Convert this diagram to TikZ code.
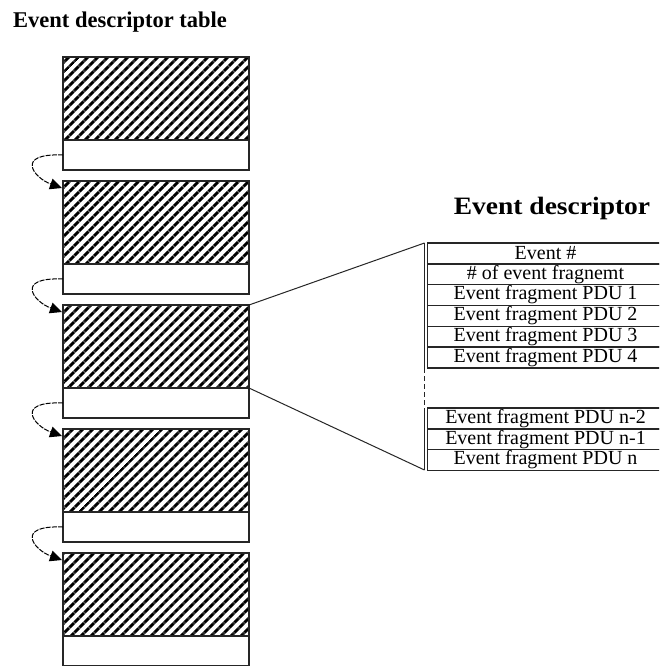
\documentclass[tikz,border=0pt]{standalone}
\usepackage{fontspec}
\setmainfont{Liberation Serif}
\usetikzlibrary{arrows.meta,patterns.meta}
\tikzset{
  blk/.style={draw=black!85, line width=1.4pt, inner sep=0pt, outer sep=0pt,
    minimum width=186pt, anchor=north west},
  hatchbox/.style={blk, minimum height=83pt,
    pattern={Lines[angle=45,distance=7.4pt,line width=3.4pt]}},
  whitebox/.style={blk, minimum height=30pt, fill=white},
  looparrow/.style={line width=1pt, dash pattern=on 5pt off 1.2pt,
    -{Triangle[length=12pt,width=11pt]}},
  rowbox/.style={draw=black!85, line width=1.4pt, inner sep=0pt, outer sep=0pt,
    minimum width=236pt, minimum height=20.8pt, anchor=north west,
    font=\fontsize{20}{22}\selectfont},
  link/.style={line width=1pt, black!85},
  ttl/.style={font=\bfseries\fontsize{22.5}{26}\selectfont, inner sep=0pt}
}
\begin{document}
\begin{tikzpicture}[x=1pt,y=-1pt]
\useasboundingbox (0,0) rectangle (659,666);
\clip (0,0) rectangle (659,666);
\fill[white] (0,0) rectangle (659,666);

\node[ttl, anchor=base west] (t1) at (13,28) {Event descriptor table};
\node[ttl, anchor=base, font=\bfseries\fontsize{25}{29}\selectfont] (t2) at (552,214) {\scalebox{1.1}[1]{Event descriptor}};

% blocks
\foreach \k in {0,...,4}{
  \pgfmathsetmacro{\T}{57+124*\k}
  \node[hatchbox] (h\k) at (63,\T) {};
  \node[whitebox] (w\k) at (h\k.south west) {};
}
% loops
\foreach \k/\n in {0/1,1/2,2/3,3/4}{
  \draw[looparrow] (w\k.west) .. controls +(-49,-2) and +(-28,-10) .. ([shift={(-1,7)}]h\n.north west);
}

% table
\node[rowbox] (r1) at (427.5,243) {Event \#};
\node[rowbox] (r2) at (r1.south west) {\# of event fragnemt};
\node[rowbox] (r3) at (r2.south west) {Event fragment PDU 1};
\node[rowbox] (r4) at (r3.south west) {Event fragment PDU 2};
\node[rowbox] (r5) at (r4.south west) {Event fragment PDU 3};
\node[rowbox] (r6) at (r5.south west) {Event fragment PDU 4};
\node[rowbox] (r7) at (427.5,408) {Event fragment PDU n-2};
\node[rowbox] (r8) at (r7.south west) {Event fragment PDU n-1};
\node[rowbox] (r9) at (r8.south west) {Event fragment PDU n};

\coordinate (c1) at (424.5,243);
\coordinate (c2) at (424.5,368);
\coordinate (c3) at (424.5,408);
\coordinate (c4) at (424.5,470);
\draw[link] (c1) -- (c2);
\draw[link, dash pattern=on 5pt off 3pt] (c2) -- (c3);
\draw[link] (c3) -- (c4);

\draw[link] (h2.north east) -- (c1);
\draw[link] (h2.south east) -- (c4);
\end{tikzpicture}
\end{document}
